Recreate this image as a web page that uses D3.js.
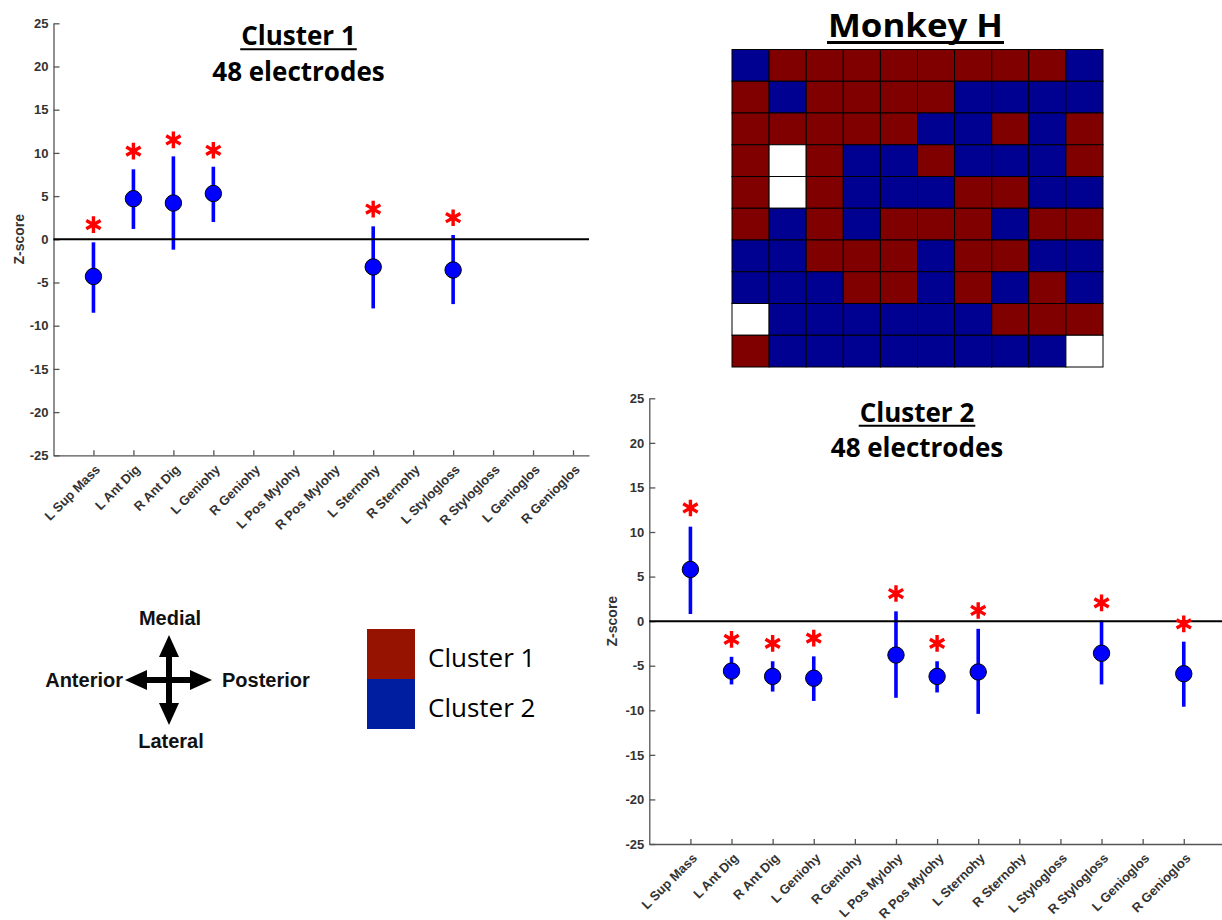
<!DOCTYPE html>
<html>
<head>
<meta charset="utf-8">
<script src="https://cdn.jsdelivr.net/npm/d3@7"></script>
<style>
  body { margin: 0; background: #fff; }
  svg { display: block; }
  .axis .tick text { font-family: "Liberation Sans", Arial, sans-serif; font-weight: bold; font-size: 13px; fill: #333; }
  .ylab { font-family: "Liberation Sans", Arial, sans-serif; font-weight: bold; font-size: 14px; fill: #333; }
  .title { font-family: "Open Sans", sans-serif; font-weight: bold; fill: #000; }
  .compass { font-family: "Liberation Sans", Arial, sans-serif; font-weight: bold; font-size: 20px; fill: #111; }
  .legend { font-family: "Open Sans", sans-serif; font-size: 26px; fill: #000; }
</style>
</head>
<body>
<svg id="fig" width="1222" height="920"></svg>
<script>
(function () {
  'use strict';

  // muscles on the x axis (positions 1..13)
  const muscles = ['L Sup Mass', 'L Ant Dig', 'R Ant Dig', 'L Geniohy', 'R Geniohy', 'L Pos Mylohy',
    'R Pos Mylohy', 'L Sternohy', 'R Sternohy', 'L Stylogloss', 'R Stylogloss', 'L Genioglos', 'R Genioglos'];
  const yTicks = [-25, -20, -15, -10, -5, 0, 5, 10, 15, 20, 25];

  // Cluster 1: mean z-score, error bar ends and significance star height (null = not shown)
  const c1Mean  = [-4.3, 4.7, 4.2, 5.3, null, null, null, -3.2, null, -3.55, null, null, null];
  const c1Lower = [-8.5, 1.2, -1.2, 2.0, null, null, null, -8.0, null, -7.5, null, null, null];
  const c1Upper = [-0.35, 8.1, 9.6, 8.4, null, null, null, 1.5, null, 0.5, null, null, null];
  const c1Star  = [1.7, 10.2, 11.5, 10.3, null, null, null, 3.5, null, 2.5, null, null, null];

  // Cluster 2
  const c2Mean  = [5.8, -5.6, -6.2, -6.4, null, -3.8, -6.2, -5.7, null, null, -3.6, null, -5.9];
  const c2Lower = [0.8, -7.1, -7.9, -8.95, null, -8.6, -8.0, -10.4, null, null, -7.1, null, -9.6];
  const c2Upper = [10.6, -4.0, -4.5, -3.95, null, 1.1, -4.5, -0.86, null, null, 0.07, null, -2.3];
  const c2Star  = [12.7, -2.05, -2.5, -1.9, null, 3.1, -2.5, 1.2, null, null, 2.05, null, -0.3];

  // electrode array map: 1 = cluster 1, 2 = cluster 2, 0 = no electrode
  const arrayRows = [
    '2111111112',
    '1211112222',
    '1111122121',
    '1012212221',
    '1012221122',
    '1212111211',
    '2211121122',
    '2221121212',
    '0222222111',
    '1222222220'
  ];

  const legendLabels = ['Cluster 1', 'Cluster 2'];
  const compassLabels = ['Medial', 'Lateral', 'Anterior', 'Posterior'];

  const svg = d3.select('#fig');
  svg.append('rect').attr('width', 1222).attr('height', 920).attr('fill', '#fff');

  const axisColor = '#555';

  function titleBlock(cx, line1, base1, size1, ulOff, ulW, line2, base2, size2, fitW) {
    const t = svg.append('text').attr('class', 'title')
      .attr('x', cx).attr('y', base1).attr('text-anchor', 'middle')
      .style('font-size', size1 + 'px').text(line1);
    if (fitW) t.attr('textLength', fitW).attr('lengthAdjust', 'spacingAndGlyphs');
    const w = fitW || t.node().getComputedTextLength();
    svg.append('line')
      .attr('x1', cx - w / 2 - 1).attr('x2', cx + w / 2 + 1)
      .attr('y1', base1 + ulOff).attr('y2', base1 + ulOff)
      .attr('stroke', '#000').attr('stroke-width', ulW);
    if (line2) {
      svg.append('text').attr('class', 'title')
        .attr('x', cx).attr('y', base2).attr('text-anchor', 'middle')
        .style('font-size', size2 + 'px').text(line2);
    }
  }

  function panel(cfg, mean, lower, upper, star) {
    const x = d3.scaleLinear().domain([0, cfg.xMax]).range([cfg.left, cfg.right]);
    const y = d3.scaleLinear().domain([-25, 25]).range([cfg.bottom, cfg.top]);
    const g = svg.append('g');

    g.append('g').attr('class', 'axis')
      .attr('transform', `translate(${cfg.left},0)`)
      .call(d3.axisLeft(y).tickValues(yTicks).tickFormat(d => String(d))
        .tickSizeInner(-6).tickSizeOuter(0).tickPadding(5))
      .call(a => a.selectAll('path, line').attr('stroke', axisColor).attr('stroke-width', 1.3));

    const xa = g.append('g').attr('class', 'axis')
      .attr('transform', `translate(0,${cfg.bottom})`)
      .call(d3.axisBottom(x).tickValues(d3.range(1, 14)).tickFormat(i => muscles[i - 1])
        .tickSizeInner(-5).tickSizeOuter(0))
      .call(a => a.selectAll('path, line').attr('stroke', axisColor).attr('stroke-width', 1.3));
    xa.selectAll('.tick text')
      .attr('x', 0).attr('y', 0).attr('dy', 0)
      .attr('text-anchor', 'end')
      .attr('transform', 'translate(7,15) rotate(-45)');

    g.append('text').attr('class', 'ylab')
      .attr('transform', `translate(${cfg.ylabX},${(cfg.top + cfg.bottom) / 2}) rotate(-90)`)
      .attr('text-anchor', 'middle').text('Z-score');

    const pts = muscles.map((m, i) => ({
      pos: i + 1, mean: mean[i], lo: lower[i], hi: upper[i], star: star[i]
    })).filter(d => d.mean !== null);

    g.append('g').selectAll('line').data(pts).join('line')
      .attr('x1', d => x(d.pos)).attr('x2', d => x(d.pos))
      .attr('y1', d => y(d.lo)).attr('y2', d => y(d.hi))
      .attr('stroke', '#0000ff').attr('stroke-width', 3.6);

    g.append('line')
      .attr('x1', x(0)).attr('x2', cfg.right)
      .attr('y1', y(0)).attr('y2', y(0))
      .attr('stroke', '#000').attr('stroke-width', 2);

    g.append('g').selectAll('circle').data(pts).join('circle')
      .attr('cx', d => x(d.pos)).attr('cy', d => y(d.mean)).attr('r', 8.2)
      .attr('fill', '#0000ff').attr('stroke', '#000').attr('stroke-width', 1);

    const ast = d3.symbol(d3.symbolAsterisk, 195);
    g.append('g').selectAll('path').data(pts.filter(d => d.star !== null)).join('path')
      .attr('transform', d => `translate(${x(d.pos)},${y(d.star)})`)
      .attr('d', ast)
      .attr('fill', 'none').attr('stroke', '#ff0000').attr('stroke-width', 3.4);
  }

  // ---- Cluster 1 panel
  titleBlock(298.5, 'Cluster 1', 45, 26, 4.3, 2, '48 electrodes', 81, 26);
  panel({ left: 53.5, right: 589, xMax: 13.4, top: 23.3, bottom: 455.3, ylabX: 23.5 },
    c1Mean, c1Lower, c1Upper, c1Star);

  // ---- Cluster 2 panel
  titleBlock(917, 'Cluster 2', 421.5, 26, 4.3, 2, '48 electrodes', 457, 26);
  panel({ left: 649.3, right: 1222, xMax: 13.93, top: 398.3, bottom: 844, ylabX: 617 },
    c2Mean, c2Lower, c2Upper, c2Star);

  // ---- Monkey H electrode map
  titleBlock(915.5, 'Monkey H', 37, 33, 5.5, 3.2, null, 0, 0, 175);
  const cellColor = { '1': '#800000', '2': '#000091', '0': '#ffffff' };
  const gx = d3.scaleBand().domain(d3.range(10)).range([732, 1103]);
  const gy = d3.scaleBand().domain(d3.range(10)).range([49.5, 367]);
  const cells = [];
  arrayRows.forEach((row, r) => row.split('').forEach((v, c) => cells.push({ r, c, v })));
  svg.append('g').selectAll('rect').data(cells).join('rect')
    .attr('x', d => gx(d.c)).attr('y', d => gy(d.r))
    .attr('width', gx.bandwidth()).attr('height', gy.bandwidth())
    .attr('fill', d => cellColor[d.v])
    .attr('stroke', '#000').attr('stroke-width', 1);

  // ---- Orientation compass
  const cx = 169, cy = 680;
  const comp = svg.append('g');
  function arrowHead(tipX, tipY, dx, dy) {
    // dx,dy: unit direction of the arrow
    const L = 22, W = 10;
    const bx = tipX - dx * L, by = tipY - dy * L;
    const px = -dy, py = dx;
    comp.append('path')
      .attr('d', `M${tipX},${tipY}L${bx + px * W},${by + py * W}L${bx - px * W},${by - py * W}Z`)
      .attr('fill', '#000');
  }
  comp.append('line').attr('x1', cx).attr('x2', cx).attr('y1', 650).attr('y2', 710)
    .attr('stroke', '#000').attr('stroke-width', 6);
  comp.append('line').attr('x1', 140).attr('x2', 196).attr('y1', cy).attr('y2', cy)
    .attr('stroke', '#000').attr('stroke-width', 6);
  arrowHead(cx, 635, 0, -1);
  arrowHead(cx, 725, 0, 1);
  arrowHead(125, cy, -1, 0);
  arrowHead(212, cy, 1, 0);

  comp.append('text').attr('class', 'compass').attr('x', 170).attr('y', 625)
    .attr('text-anchor', 'middle').text(compassLabels[0]);
  comp.append('text').attr('class', 'compass').attr('x', 171).attr('y', 748)
    .attr('text-anchor', 'middle').text(compassLabels[1]);
  comp.append('text').attr('class', 'compass').attr('x', 123).attr('y', 687)
    .attr('text-anchor', 'end').text(compassLabels[2]);
  comp.append('text').attr('class', 'compass').attr('x', 222).attr('y', 687)
    .attr('text-anchor', 'start').text(compassLabels[3]);

  // ---- Cluster colour legend
  const legendColors = ['#951300', '#001ea0'];
  const leg = svg.append('g');
  leg.selectAll('rect').data(legendLabels).join('rect')
    .attr('x', 367).attr('y', (d, i) => 629 + i * 50)
    .attr('width', 48).attr('height', 50)
    .attr('fill', (d, i) => legendColors[i]);
  leg.selectAll('text').data(legendLabels).join('text')
    .attr('class', 'legend')
    .attr('x', 428).attr('y', (d, i) => 667 + i * 50)
    .text(d => d);
})();
</script>
</body>
</html>
